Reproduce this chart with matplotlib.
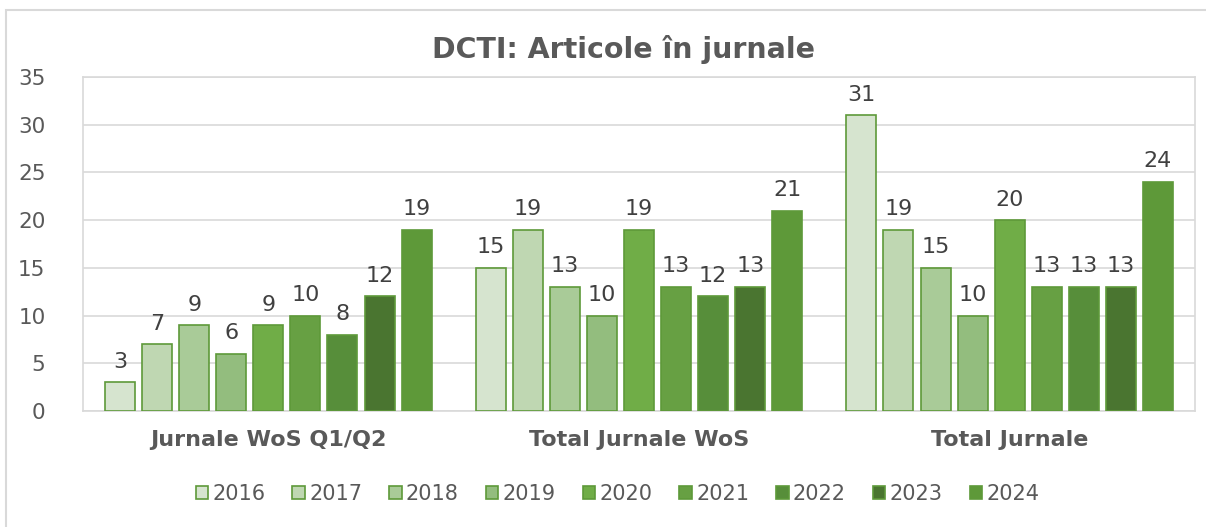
import numpy as np
import matplotlib.pyplot as plt
from matplotlib.patches import Rectangle

categories = ["Jurnale WoS Q1/Q2", "Total Jurnale WoS", "Total Jurnale"]
years = ["2016", "2017", "2018", "2019", "2020", "2021", "2022", "2023", "2024"]
values = {
    "2016": [3, 15, 31],
    "2017": [7, 19, 19],
    "2018": [9, 13, 15],
    "2019": [6, 10, 10],
    "2020": [9, 19, 20],
    "2021": [10, 13, 13],
    "2022": [8, 12, 13],
    "2023": [12, 13, 13],
    "2024": [19, 21, 24],
}
colors = ["#D6E4CF", "#BFD7B2", "#A9CB98", "#93BD7E", "#70AD47",
          "#67A043", "#578E3A", "#4A7530", "#5E9939"]
edge = "#5E9939"
text_col = "#595959"
label_col = "#404040"

fig = plt.figure(figsize=(12.06, 5.27), dpi=100)
# outer chart border (runs off the right and bottom edges like the source)
fig.patches.append(Rectangle((6 / 1206, -0.05), 1.1, 1 - 10 / 527 + 0.05,
                             transform=fig.transFigure, fill=False,
                             edgecolor="#D9D9D9", linewidth=1.5))
ax = fig.add_axes([83 / 1206, 1 - 411 / 527, (1195 - 83) / 1206, (411 - 77) / 527])

x = np.arange(len(categories))
step = 0.1
width = 0.081
for i, y in enumerate(years):
    pos = x + (i - 4) * step
    bars = ax.bar(pos, values[y], width, color=colors[i], edgecolor=edge,
                  linewidth=1.2, label=y, zorder=3)
    for b, v in zip(bars, values[y]):
        ax.text(b.get_x() + b.get_width() / 2, v + 1.1, str(v), ha="center",
                va="bottom", fontsize=16, color=label_col)

ax.set_xlim(-0.5, 2.5)
ax.set_ylim(0, 35)
ax.set_yticks(range(0, 36, 5))
ax.yaxis.grid(True, color="#D9D9D9", linewidth=1.2, zorder=0)
ax.set_xticks(x)
ax.set_xticklabels(categories, fontsize=16, fontweight="bold", color=text_col)
ax.tick_params(axis="y", labelsize=15.5, labelcolor=text_col, length=0, pad=27)
ax.tick_params(axis="x", length=0, pad=14)
for s in ["top", "right", "left", "bottom"]:
    ax.spines[s].set_color("#D9D9D9")
    ax.spines[s].set_linewidth(1.2)

fig.text(0.5174, 0.907, "DCTI: Articole în jurnale", ha="center", va="center",
         fontsize=20.5, fontweight="bold", color=text_col)

leg = fig.legend(loc="center", bbox_to_anchor=(0.512, 0.063), ncol=9, frameon=False,
                 fontsize=15, handlelength=0.6, handleheight=0.6,
                 handletextpad=0.2, columnspacing=1.3)
for t in leg.get_texts():
    t.set_color(text_col)

fig.savefig("out.png", dpi=100)
